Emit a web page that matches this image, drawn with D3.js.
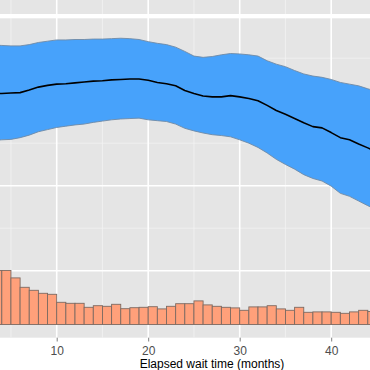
<!DOCTYPE html>
<html>
<head>
<meta charset="utf-8">
<script src="https://cdn.jsdelivr.net/npm/d3@7"></script>
<style>
html,body{margin:0;padding:0;background:#fff;}
svg{display:block;}
</style>
</head>
<body>
<svg id="chart" width="370" height="370"></svg>
<script>
// ---- data ----
const months = [3,4,5,6,7,8,9,10,11,12,13,14,15,16,17,18,19,20,21,22,23,24,25,26,27,28,29,30,31,32,33,34,35,36,37,38,39,40,41,42,43,44,45];
const estimate = [0.617,0.617,0.618,0.619,0.625,0.632,0.636,0.639,0.640,0.642,0.644,0.646,0.647,0.649,0.650,0.651,0.651,0.648,0.643,0.640,0.635,0.624,0.617,0.611,0.609,0.609,0.612,0.609,0.605,0.600,0.589,0.577,0.568,0.558,0.548,0.539,0.536,0.525,0.513,0.508,0.498,0.489,0.479];
const upper = [0.731,0.730,0.729,0.729,0.732,0.737,0.740,0.743,0.743,0.744,0.744,0.745,0.745,0.746,0.747,0.746,0.744,0.739,0.735,0.732,0.726,0.716,0.705,0.702,0.704,0.708,0.711,0.710,0.708,0.705,0.694,0.686,0.680,0.671,0.663,0.658,0.655,0.650,0.643,0.639,0.635,0.628,0.622];
const lower = [0.506,0.508,0.509,0.513,0.519,0.527,0.532,0.537,0.540,0.543,0.545,0.549,0.552,0.555,0.557,0.558,0.559,0.555,0.553,0.551,0.545,0.535,0.529,0.524,0.520,0.518,0.515,0.508,0.500,0.490,0.477,0.462,0.450,0.439,0.426,0.417,0.411,0.399,0.382,0.375,0.364,0.353,0.343];
const binStarts = [3,4,5,6,7,8,9,10,11,12,13,14,15,16,17,18,19,20,21,22,23,24,25,26,27,28,29,30,31,32,33,34,35,36,37,38,39,40,41,42,43,44];
const binCounts = [270,270,233,186,171,156,151,111,106,106,86,94,91,101,79,84,86,89,78,91,104,104,118,98,91,86,83,71,88,88,94,78,71,86,61,63,63,61,56,63,71,65];
const xMajor = [10,20,30,40];
const xMinor = [5,15,25,35,45];
const yMajor = [0.2,0.4,0.6];
const yMinor = [0.1,0.3,0.5,0.7];
const xTitle = "Elapsed wait time (months)";

// ---- layout ----
const W = 370, H = 370;
const panelBottom = 337.7;
const svg = d3.select("#chart");

const x = d3.scaleLinear().domain([10, 40]).range([56.7, 331.2]);
const y = d3.scaleLinear().domain([0.2, 0.8]).range([270.7, 15.7]);
const yc = d3.scaleLinear().domain([0, 300]).range([324.5, 264.5]);

// panel
svg.append("rect").attr("x",0).attr("y",0).attr("width",W).attr("height",panelBottom).attr("fill","#E5E5E5");

const g = svg.append("g");
// minor grid
g.selectAll(".vmin").data(xMinor).enter().append("line")
  .attr("x1",d=>x(d)).attr("x2",d=>x(d)).attr("y1",0).attr("y2",panelBottom)
  .attr("stroke","#F2F2F2").attr("stroke-width",0.8);
g.selectAll(".hmin").data(yMinor).enter().append("line")
  .attr("x1",0).attr("x2",W).attr("y1",d=>y(d)).attr("y2",d=>y(d))
  .attr("stroke","#F2F2F2").attr("stroke-width",0.8);
// major grid
g.selectAll(".vmaj").data(xMajor).enter().append("line")
  .attr("x1",d=>x(d)).attr("x2",d=>x(d)).attr("y1",0).attr("y2",panelBottom)
  .attr("stroke","#FFFFFF").attr("stroke-width",1.6);
g.selectAll(".hmaj").data(yMajor).enter().append("line")
  .attr("x1",0).attr("x2",W).attr("y1",d=>y(d)).attr("y2",d=>y(d))
  .attr("stroke","#FFFFFF").attr("stroke-width",1.6);
// top separator band
svg.append("rect").attr("x",0).attr("y",y(0.8)-1.7).attr("width",W).attr("height",4.3).attr("fill","#FFFFFF");

// ribbon
const data = months.map((m,i)=>({m, est:estimate[i], up:upper[i], lo:lower[i]}));
const area = d3.area().x(d=>x(d.m)).y0(d=>y(d.lo)).y1(d=>y(d.up));
svg.append("path").datum(data).attr("d",area).attr("fill","#47A2FB");
svg.append("path").datum(data).attr("d",d3.line().x(d=>x(d.m)).y(d=>y(d.up)))
  .attr("fill","none").attr("stroke","#6f8aa6").attr("stroke-width",0.9);
svg.append("path").datum(data).attr("d",d3.line().x(d=>x(d.m)).y(d=>y(d.lo)))
  .attr("fill","none").attr("stroke","#6f8aa6").attr("stroke-width",0.9);
svg.append("path").datum(data).attr("d",d3.line().x(d=>x(d.m)).y(d=>y(d.est)))
  .attr("fill","none").attr("stroke","#000").attr("stroke-width",1.6).attr("stroke-linejoin","round");

// histogram
const bins = binStarts.map((s,i)=>({s, c:binCounts[i]}));
svg.selectAll(".bar").data(bins).enter().append("rect")
  .attr("x",d=>x(d.s)).attr("width",d=>x(d.s+1)-x(d.s))
  .attr("y",d=>yc(d.c)).attr("height",d=>yc(0)-yc(d.c))
  .attr("fill","#FFA07A").attr("stroke","#7d6a62").attr("stroke-width",0.9);

// x axis
const ax = svg.append("g").attr("transform",`translate(0,${panelBottom})`)
  .call(d3.axisBottom(x).tickValues(xMajor).tickSize(3.8).tickSizeOuter(0).tickPadding(5));
ax.select(".domain").remove();
ax.selectAll(".tick line").attr("stroke","#7f7f7f").attr("stroke-width",1);
ax.selectAll(".tick text").attr("fill","#4d4d4d").attr("font-family","'Liberation Sans', Arial, sans-serif")
  .attr("font-size","12px").attr("dy",null).attr("y",17.3);

svg.append("text").attr("x",212).attr("y",368).attr("text-anchor","middle")
  .attr("font-family","'Liberation Sans', Arial, sans-serif").attr("font-size","12px").attr("fill","#000")
  .text(xTitle);
</script>
</body>
</html>
